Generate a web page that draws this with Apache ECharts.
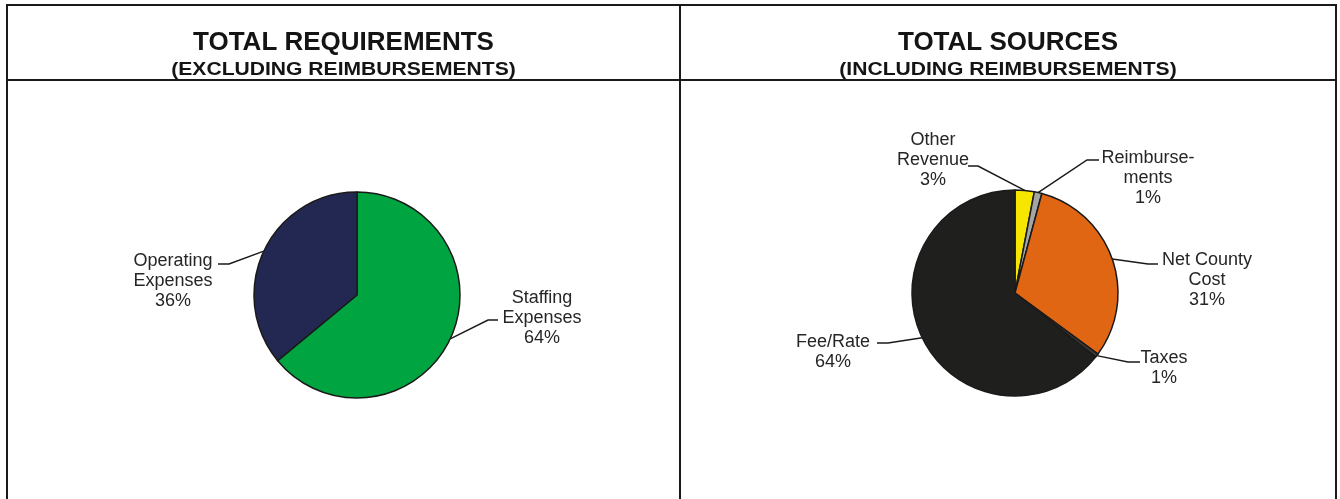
<!DOCTYPE html>
<html><head><meta charset="utf-8">
<script src="https://cdn.jsdelivr.net/npm/echarts@6/dist/echarts.min.js"></script>
<style>html,body{margin:0;padding:0;background:#fff;overflow:hidden}#c{width:1340px;height:499px;}</style>
</head><body><div id="c"></div>
<script>
// ---- data ----
const reqNames = ['Staffing\nExpenses', 'Operating\nExpenses'];
const reqValues = [64, 36];
const srcNames = ['Other\nRevenue', 'Reimburse-\nments', 'Net County\nCost', 'Taxes', 'Fee/Rate'];
const srcValues = [3.0, 1.2, 30.9, 0.6, 64.3];
const titles = ['TOTAL REQUIREMENTS', 'TOTAL SOURCES'];
const subtitles = ['(EXCLUDING REIMBURSEMENTS)', '(INCLUDING REIMBURSEMENTS)'];

// ---- styles ----
const reqColors = ['#00A541', '#232852'];
const srcColors = ['#F6E600', '#A5A5A5', '#E06614', '#3a3a38', '#1F1F1D'];
const FONT = "'Liberation Sans', Arial, sans-serif";
const TXT = '#262626';

// label placement (text block centre, and leader stub points)
const place = [
  { // left pie
    'Staffing\nExpenses': {x: 542, y: 318, p1: [488, 320], p2: [498, 320]},
    'Operating\nExpenses': {x: 173, y: 281, p1: [229, 264], p2: [218, 264]}
  },
  { // right pie
    'Other\nRevenue': {x: 933, y: 160, p1: [978, 166], p2: [968, 166]},
    'Reimburse-\nments': {x: 1148, y: 178, p1: [1087, 160], p2: [1099, 160]},
    'Net County\nCost': {x: 1207, y: 280, p1: [1148, 264], p2: [1158, 264]},
    'Taxes': {x: 1164, y: 368, p1: [1128, 362], p2: [1140, 362]},
    'Fee/Rate': {x: 833, y: 352, p1: [888, 343], p2: [877, 343]}
  }
];
const allNames = [reqNames, srcNames];

function mk(names, values, colors) {
  return names.map((n, i) => ({name: n, value: values[i], itemStyle: {color: colors[i]}}));
}

function pieSeries(idx, center, names, values, colors) {
  return {
    type: 'pie',
    center: center,
    radius: 103,
    startAngle: 90,
    clockwise: true,
    avoidLabelOverlap: false,
    silent: true,
    animation: false,
    itemStyle: {borderColor: '#1a1a1a', borderWidth: 1.5},
    label: {
      show: true, position: 'outside',
      fontFamily: FONT, fontSize: 18, lineHeight: 20, color: TXT,
      formatter: p => p.name + '\n' + Math.round(p.percent) + '%'
    },
    labelLine: {show: true, length: 20, length2: 10, smooth: false,
      lineStyle: {color: '#1a1a1a', width: 1.5}},
    labelLayout: function (params) {
      const nm = allNames[idx][params.dataIndex];
      const pl = place[idx][nm];
      const start = params.labelLinePoints ? params.labelLinePoints[0] : pl.p1;
      return {
        x: pl.x, y: pl.y, align: 'center', verticalAlign: 'middle',
        labelLinePoints: [start, pl.p1, pl.p2]
      };
    },
    emphasis: {disabled: true},
    data: mk(names, values, colors)
  };
}

function headText(txt, x, y, size, sx) {
  return {type: 'text', x: x, y: y, scaleX: sx, silent: true,
    style: {text: txt, font: 'bold ' + size + 'px ' + FONT, fill: '#141414',
      textAlign: 'center', textVerticalAlign: 'middle'}};
}

const chart = echarts.init(document.getElementById('c'), null, {renderer: 'canvas'});
const L = 7, M = 680, R = 1336, T = 5, H = 80;
chart.setOption({
  animation: false,
  graphic: [
    {type: 'rect', shape: {x: L, y: T, width: R - L, height: 600}, style: {fill: 'none', stroke: '#1a1a1a', lineWidth: 2}, silent: true},
    {type: 'line', shape: {x1: L, y1: H, x2: R, y2: H}, style: {stroke: '#1a1a1a', lineWidth: 2}, silent: true},
    {type: 'line', shape: {x1: M, y1: T, x2: M, y2: 600}, style: {stroke: '#1a1a1a', lineWidth: 2}, silent: true},
    headText(titles[0], (L + M) / 2, 42.5, 26, 1.0),
    headText(subtitles[0], (L + M) / 2, 69.5, 18.5, 1.14),
    headText(titles[1], (M + R) / 2, 42.5, 26, 1.0),
    headText(subtitles[1], (M + R) / 2, 69.5, 18.5, 1.14)
  ],
  series: [
    pieSeries(0, [357, 295], reqNames, reqValues, reqColors),
    pieSeries(1, [1015, 293], srcNames, srcValues, srcColors)
  ]
});
</script>
</body></html>
